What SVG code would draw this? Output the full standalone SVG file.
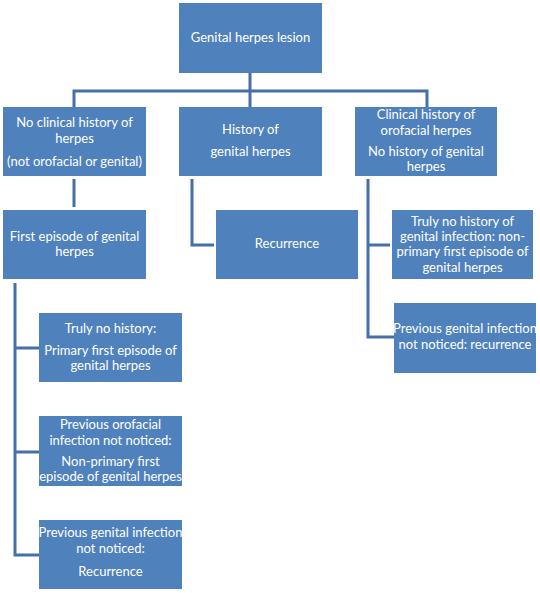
<svg xmlns="http://www.w3.org/2000/svg" width="540" height="593" viewBox="0 0 540 593">
<style>
.box{fill:#4F81BD;}
.t{font-family:Lato,"Liberation Sans",sans-serif;font-size:13px;fill:#ffffff;text-anchor:middle;}
.c{fill:none;stroke:#466FA6;stroke-width:3;}
</style>
<rect width="540" height="593" fill="#ffffff"/>
<g id="connectors">
<path class="c" d="M250,73 V91 M74,107 V91 H427 V107 M250,91 V107"/>
<path class="c" d="M74,179 V207"/>
<path class="c" d="M192,179 V245 H214"/>
<path class="c" d="M368,179 V337 H394 M368,245 H390"/>
<path class="c" d="M15,283 V555 H39 M15,348 H39 M15,452 H39"/>
</g>
<g id="n-root"><rect class="box" x="179" y="3" width="143" height="70"/><text class="t" x="250.5" y="42">Genital herpes lesion</text></g>
<g id="n-noclin"><rect class="box" x="3" y="107" width="143" height="69"/>
<text class="t" x="74.5" y="127">No clinical history of</text>
<text class="t" x="74.5" y="143">herpes</text>
<text class="t" x="74.5" y="166">(not orofacial or genital)</text></g>
<g id="n-first"><rect class="box" x="3" y="210" width="143" height="69"/>
<text class="t" x="74.5" y="241">First episode of genital</text>
<text class="t" x="74.5" y="256">herpes</text></g>
<g id="n-hist"><rect class="box" x="179" y="107" width="143" height="69"/>
<text class="t" x="250.5" y="134">History of</text>
<text class="t" x="250.5" y="156">genital herpes</text></g>
<g id="n-recur"><rect class="box" x="216" y="210" width="142" height="69"/>
<text class="t" x="287" y="248">Recurrence</text></g>
<g id="n-oro"><rect class="box" x="355" y="107" width="142" height="69"/>
<text class="t" x="426" y="119">Clinical history of</text>
<text class="t" x="426" y="135">orofacial herpes</text>
<text class="t" x="426" y="156">No history of genital</text>
<text class="t" x="426" y="171">herpes</text></g>
<g id="n-truly-gen"><rect class="box" x="392" y="210" width="141" height="69"/>
<text class="t" x="462.5" y="226">Truly no history of</text>
<text class="t" x="462.5" y="241">genital infection: non-</text>
<text class="t" x="462.5" y="256">primary first episode of</text>
<text class="t" x="462.5" y="272">genital herpes</text></g>
<g id="n-prev-gen-r"><rect class="box" x="394" y="303" width="142" height="70"/>
<text class="t" x="465" y="333">Previous genital infection</text>
<text class="t" x="465" y="349">not noticed: recurrence</text></g>
<g id="n-truly"><rect class="box" x="39" y="313" width="143" height="69"/>
<text class="t" x="110.5" y="333">Truly no history:</text>
<text class="t" x="110.5" y="355">Primary first episode of</text>
<text class="t" x="110.5" y="370">genital herpes</text></g>
<g id="n-prev-oro"><rect class="box" x="39" y="416" width="143" height="70"/>
<text class="t" x="110.5" y="429">Previous orofacial</text>
<text class="t" x="110.5" y="445">infection not noticed:</text>
<text class="t" x="110.5" y="466">Non-primary first</text>
<text class="t" x="110.5" y="481">episode of genital herpes</text></g>
<g id="n-prev-gen-l"><rect class="box" x="39" y="520" width="143" height="69"/>
<text class="t" x="110.5" y="537">Previous genital infection</text>
<text class="t" x="110.5" y="553">not noticed:</text>
<text class="t" x="110.5" y="576">Recurrence</text></g>
</svg>
